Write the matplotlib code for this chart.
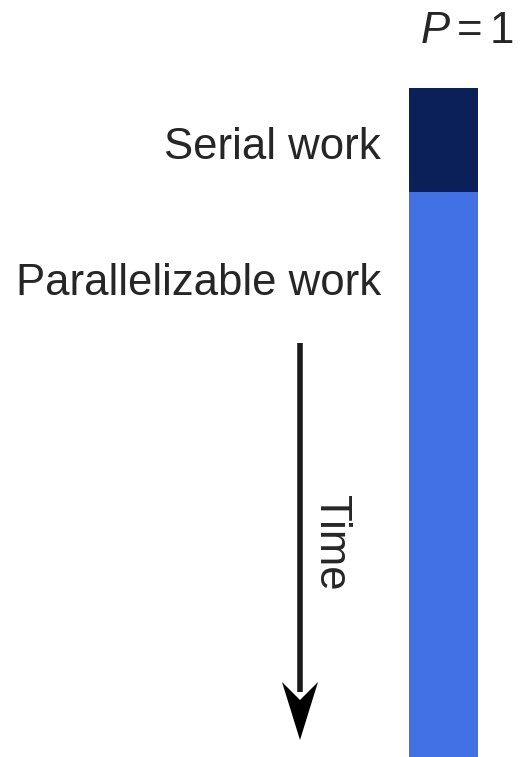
import matplotlib
matplotlib.use("Agg")
import matplotlib.pyplot as plt
from matplotlib.patches import Polygon

plt.rcParams['font.family'] = ['Liberation Sans', 'DejaVu Sans']
plt.rcParams['mathtext.fontset'] = 'custom'
plt.rcParams['mathtext.rm'] = 'Liberation Sans'
plt.rcParams['mathtext.it'] = 'Liberation Sans:italic'

# work split for one processor, in time units (serial block = 1)
segments = ['Serial work', 'Parallelizable work']
durations = [1.0, 5.6]
colors = ['#0b1f58', '#4171e4']
proc_label = r'$P=1$'

W, H = 520, 757
fig = plt.figure(figsize=(W / 100, H / 100), dpi=100)

# overlay in pixel coords for labels and the time arrow
lab = fig.add_axes([0, 0, 1, 1])
lab.set_xlim(0, W)
lab.set_ylim(H, 0)
lab.axis('off')

# bar axes: column from x=409..478 px, starting at y=88 px
bar_left, bar_right, bar_top = 409, 478, 88
ax = fig.add_axes([bar_left / W, 0, (bar_right - bar_left) / W, (H - bar_top) / H])
px_per_unit = 104
ax.set_xlim(-0.5, 0.5)
ax.set_ylim((H - bar_top) / px_per_unit, 0)
ax.axis('off')

bottom = 0
for d, c in zip(durations, colors):
    ax.bar(0, d, width=1, bottom=bottom, color=c, linewidth=0)
    bottom += d

txt = '#262626'
fs = 31.5
lab.text(381, 159, segments[0], ha='right', va='baseline', fontsize=fs, color=txt)
lab.text(381, 295, segments[1], ha='right', va='baseline', fontsize=fs, color=txt)
lab.text(467, 43, proc_label, ha='center', va='baseline', fontsize=fs, color=txt)

# time arrow
ax_x, y0, tip = 300, 343, 740
head_len, head_w, notch = 58, 18, 40
lab.plot([ax_x, ax_x], [y0, tip - head_len + 10], color='#1a1a1a', lw=4, solid_capstyle='butt')
lab.add_patch(Polygon([(ax_x, tip), (ax_x - head_w, tip - head_len),
                       (ax_x, tip - notch), (ax_x + head_w, tip - head_len)],
                      closed=True, color='black', lw=0))
lab.text(331, 543, 'Time', rotation=270, ha='center', va='center', fontsize=fs, color=txt)

fig.savefig('out.png', dpi=100)
